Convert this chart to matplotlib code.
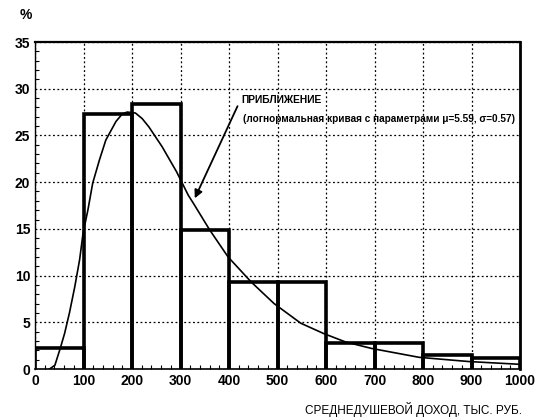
import matplotlib
matplotlib.use("Agg")
import matplotlib.pyplot as plt
from matplotlib.ticker import MultipleLocator

plt.rcParams['font.family'] = ['Liberation Sans', 'DejaVu Sans']

# Histogram bins (income, thousand rubles) and shares (%)
bin_edges = [0, 100, 200, 300, 400, 500, 600, 700, 800, 900, 1000]
shares = [2.3, 27.3, 28.4, 14.9, 9.35, 9.3, 2.75, 2.8, 1.45, 1.15]

# Lognormal approximation curve
curve_x = [30, 41, 52, 61, 71, 82, 92, 99, 109, 119, 133, 146, 167, 180, 190,
           207, 221, 235, 262, 292, 316, 327, 360, 398, 446, 493, 548, 595,
           640, 694, 792, 894, 1000]
curve_y = [0.0, 0.4, 2.2, 3.8, 6.0, 8.8, 11.7, 14.5, 17.0, 19.9, 22.4, 24.5,
           26.5, 27.3, 27.5, 27.4, 26.8, 25.9, 23.8, 21.1, 18.6, 17.7, 14.9,
           12.0, 9.3, 7.0, 4.9, 3.8, 2.9, 2.2, 1.25, 0.8, 0.5]

x_ticks = [0, 100, 200, 300, 400, 500, 600, 700, 800, 900, 1000]
y_ticks = [0, 5, 10, 15, 20, 25, 30, 35]

fig = plt.figure(figsize=(5.36, 4.19), dpi=100)
ax = fig.add_axes([35/536, 1-369/419, (520-35)/536, (369-42)/419])

ax.set_xlim(0, 1000)
ax.set_ylim(0, 35)

# grid
ax.set_xticks(x_ticks)
ax.set_yticks(y_ticks)
ax.grid(True, color='black', linestyle=(0, (1.5, 2.0)), linewidth=0.9)
ax.set_axisbelow(True)

# minor ticks
ax.xaxis.set_minor_locator(MultipleLocator(20))
ax.yaxis.set_minor_locator(MultipleLocator(1))
ax.tick_params(axis='both', which='minor', direction='in', length=3, width=0.8)
ax.tick_params(axis='both', which='major', direction='in', length=0, labelsize=10)

for lbl in ax.get_xticklabels() + ax.get_yticklabels():
    lbl.set_fontweight('bold')

# histogram outline bars
for i, h in enumerate(shares):
    x0, x1 = bin_edges[i], bin_edges[i + 1]
    ax.plot([x0, x0, x1, x1], [0, h, h, 0], color='black', linewidth=2.6,
            solid_joinstyle='miter', zorder=3)

# curve
ax.plot(curve_x, curve_y, color='black', linewidth=1.2, zorder=4,
        solid_joinstyle='round')

# spines
ax.spines['left'].set_linewidth(1.0)
ax.spines['bottom'].set_linewidth(1.2)
ax.spines['top'].set_linewidth(1.6)
ax.spines['right'].set_linewidth(2.0)

# annotation
ax.annotate('', xy=(327, 18.0), xytext=(420, 28.4),
            arrowprops=dict(arrowstyle='-|>', color='black', lw=1.3,
                            mutation_scale=12), zorder=5)
ax.text(425, 28.8, 'ПРИБЛИЖЕНИЕ', fontsize=7.4, fontweight='bold',
        ha='left', va='center')
ax.text(428, 26.8, '(логнормальная кривая с параметрами μ=5.59, σ=0.57)',
        fontsize=7.2, fontweight='bold', ha='left', va='center')

fig.text(20/536, 1-15/419, '%', fontsize=10, fontweight='bold',
         ha='left', va='center')
fig.text(522/536, 1-409/419, 'СРЕДНЕДУШЕВОЙ ДОХОД, ТЫС. РУБ.', fontsize=8.5,
         ha='right', va='center')

fig.savefig('out.png', dpi=100)
